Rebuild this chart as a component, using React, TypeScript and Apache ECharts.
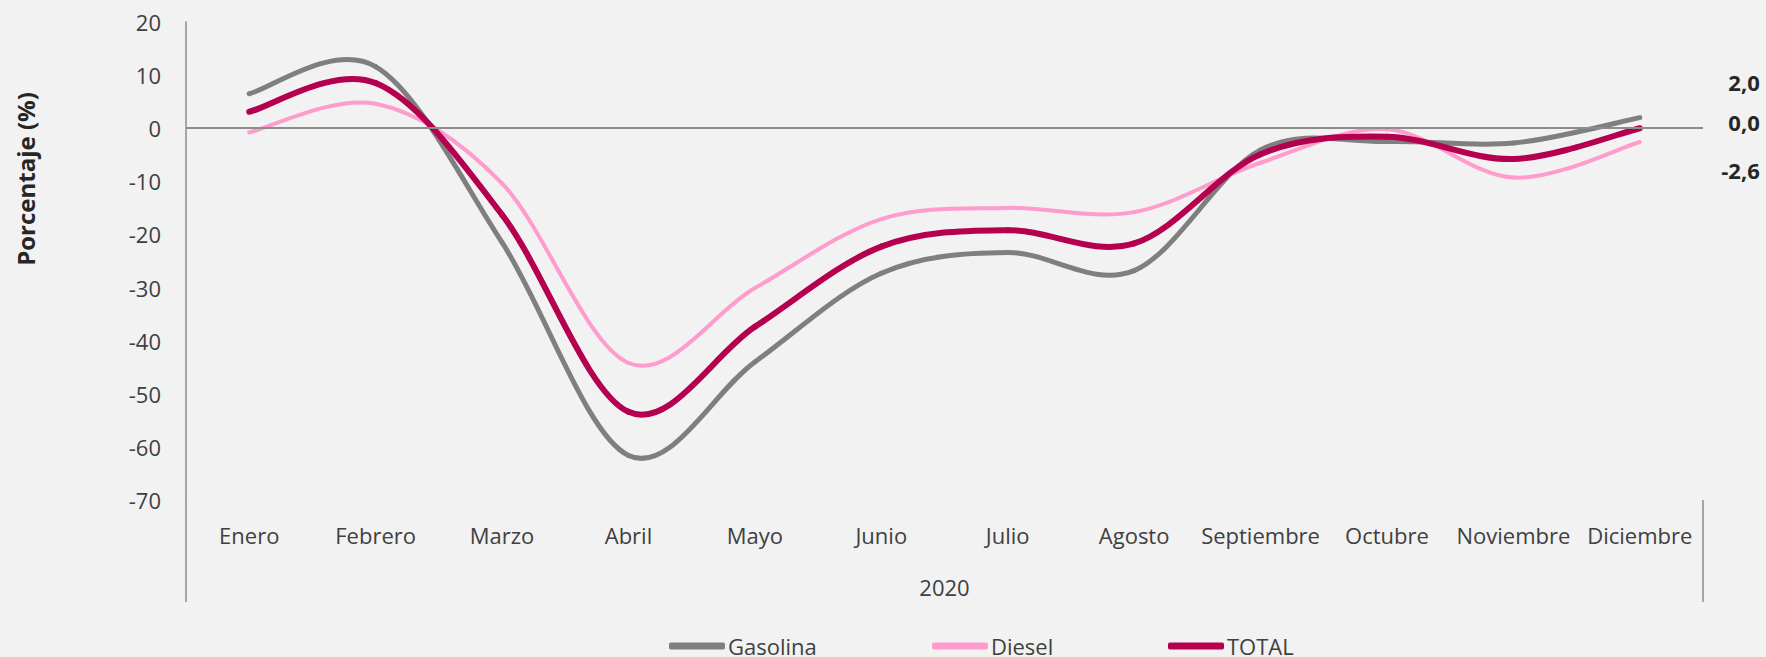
import React, { useEffect, useRef } from "react";
import * as echarts from "echarts";

const categories = ["Enero", "Febrero", "Marzo", "Abril", "Mayo", "Junio", "Julio", "Agosto", "Septiembre", "Octubre", "Noviembre", "Diciembre"];
const gasolina = [6.5, 11.6, -21.5, -61.6, -44.0, -27.3, -23.4, -26.8, -4.1, -2.5, -2.8, 2.0];
const diesel = [-0.8, 4.6, -10.4, -44.2, -30.1, -17.1, -15.0, -15.8, -6.5, -0.2, -9.3, -2.6];
const total = [3.1, 8.5, -16.3, -53.4, -37.4, -22.3, -19.2, -21.7, -4.9, -1.6, -5.8, 0.0];
const yearLabel = "2020";
const yName = "Porcentaje (%)";

const FONT = "'Open Sans', 'Noto Sans', sans-serif";
const TEXT = "#404040";
const AXIS = "#8c8c8c";

function smoothSeries(name: string, values: number[], color: string, width: number, labelDy: number, extra: any = {}) {
  const n = values.length;
  return {
    name,
    type: "custom",
    coordinateSystem: "cartesian2d",
    data: values.map((v, i) => [i, v]),
    encode: { x: 0, y: 1 },
    itemStyle: { color },
    clip: false,
    renderItem: (params: any, api: any) => {
      const i = params.dataIndex;
      const pt = (k: number) => api.coord([k, values[k]]);
      const children: any[] = [];
      if (i < n - 1) {
        const p0 = pt(Math.max(i - 1, 0));
        const p1 = pt(i);
        const p2 = pt(i + 1);
        const p3 = pt(Math.min(i + 2, n - 1));
        const t = 1 / 6;
        children.push({
          type: "bezierCurve",
          shape: {
            x1: p1[0],
            y1: p1[1],
            x2: p2[0],
            y2: p2[1],
            cpx1: p1[0] + (p2[0] - p0[0]) * t,
            cpy1: p1[1] + (p2[1] - p0[1]) * t,
            cpx2: p2[0] - (p3[0] - p1[0]) * t,
            cpy2: p2[1] - (p3[1] - p1[1]) * t,
          },
          style: { stroke: color, lineWidth: width, fill: "none", lineCap: "round", lineJoin: "round" },
        });
      } else {
        const p = pt(i);
        children.push({
          type: "text",
          x: p[0] + 120,
          y: p[1] + labelDy,
          style: {
            text: values[i].toFixed(1).replace(".", ","),
            fill: "#262626",
            fontFamily: FONT,
            fontSize: 22,
            fontWeight: "bold",
            align: "right",
            verticalAlign: "middle",
          },
        });
      }
      return { type: "group", children };
    },
    ...extra,
  };
}

export default function App() {
  const ref = useRef<HTMLDivElement>(null);
  useEffect(() => {
    if (!ref.current) return;
    const chart = echarts.init(ref.current, undefined, { renderer: "svg" });
    const legendBase = {
      top: 635,
      padding: 0,
      icon: "roundRect",
      itemWidth: 56,
      itemHeight: 7,
      itemGap: 5,
      textStyle: { fontFamily: FONT, fontSize: 22, color: TEXT, padding: [0, 0, 0, -2] },
      selectedMode: false,
    };
    chart.setOption({
      animation: false,
      backgroundColor: "#F2F2F2",
      grid: { left: 186, right: 63, top: 22, bottom: 157, containLabel: false },
      legend: [
        { ...legendBase, left: 669, data: ["Gasolina"] },
        { ...legendBase, left: 932, data: ["Diesel"] },
        { ...legendBase, left: 1168, data: ["TOTAL"] },
      ],
      xAxis: {
        type: "category",
        data: categories,
        boundaryGap: true,
        axisLine: { show: false },
        axisTick: { show: false },
        axisLabel: { margin: 24, fontFamily: FONT, fontSize: 22, color: TEXT, interval: 0 },
        name: yearLabel,
        nameLocation: "middle",
        nameGap: 76,
        nameTextStyle: { fontFamily: FONT, fontSize: 22, color: TEXT },
      },
      yAxis: {
        type: "value",
        min: -70,
        max: 20,
        interval: 10,
        axisLine: { show: true, lineStyle: { color: AXIS, width: 1.5 } },
        axisTick: { show: false },
        splitLine: { show: false },
        axisLabel: { margin: 25, fontFamily: FONT, fontSize: 22, color: TEXT },
      },
      graphic: [
        { type: "line", shape: { x1: 186, y1: 500, x2: 186, y2: 602 }, style: { stroke: AXIS, lineWidth: 1.5 } },
        { type: "line", shape: { x1: 1703, y1: 500, x2: 1703, y2: 602 }, style: { stroke: AXIS, lineWidth: 1.5 } },
        {
          type: "text",
          x: 25,
          y: 179,
          rotation: Math.PI / 2,
          style: {
            text: yName,
            font: `bold 24px ${FONT}`,
            fill: "#262626",
            textAlign: "center",
            textVerticalAlign: "middle",
          },
        },
      ],
      series: [
        {
          type: "line",
          name: "_zero",
          data: [],
          silent: true,
          z: 1,
          markLine: {
            silent: true,
            symbol: "none",
            label: { show: false },
            lineStyle: { color: AXIS, width: 2, type: "solid" },
            data: [{ yAxis: 0 }],
          },
        },
        smoothSeries("Gasolina", gasolina, "#7F7F7F", 5, -36, { z: 2 }),
        smoothSeries("Diesel", diesel, "#FF9BCD", 4, 28, { z: 3 }),
        smoothSeries("TOTAL", total, "#B4004E", 6, -6, { z: 4 }),
      ],
    });
    return () => chart.dispose();
  }, []);
  return (
    <div
      ref={ref}
      style={{ position: "fixed", left: 0, top: 0, width: 1766, height: 657, background: "#F2F2F2" }}
    />
  );
}
